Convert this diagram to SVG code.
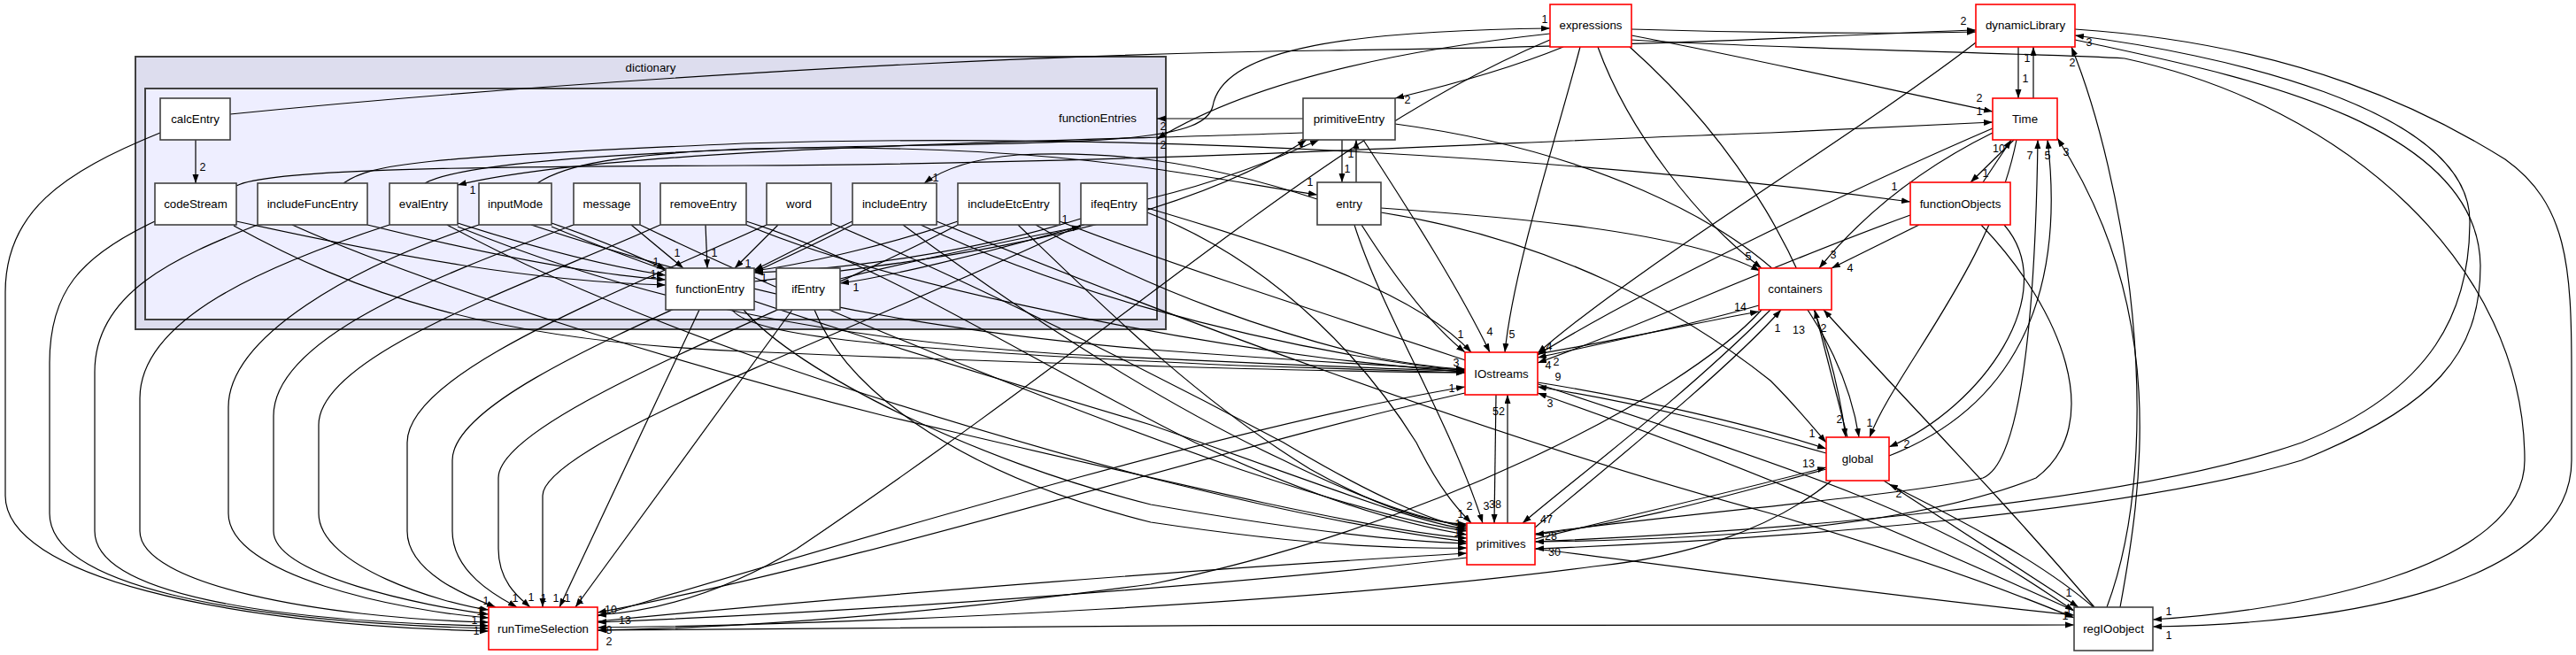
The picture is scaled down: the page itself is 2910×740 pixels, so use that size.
<svg xmlns="http://www.w3.org/2000/svg" width="2910" height="740" viewBox="0 0 2910 740">
<defs>
<marker id="ah" markerUnits="userSpaceOnUse" markerWidth="11" markerHeight="8" refX="10" refY="3.5" orient="auto"><path d="M0,0 L10,3.5 L0,7 z" fill="#000"/></marker>
<style>
text{font-family:"Liberation Sans",Arial,sans-serif;font-size:13.3px;fill:#000}
.n{fill:#fff;stroke:#404040;stroke-width:1.6}
.r{fill:#fff;stroke:#ff0000;stroke-width:1.6}
.lbl{text-anchor:middle}
#edges path{fill:none;stroke:#000;stroke-width:1.2;marker-end:url(#ah)}
#edgelabels text{font-size:12.5px;text-anchor:middle}
</style>
</defs>
<rect width="2910" height="740" fill="#fff"/>
<g id="cluster_dictionary">
<rect x="153" y="64" width="1164" height="308" fill="#ddddee" stroke="#404040" stroke-width="2"/>
<text x="735" y="81" class="lbl">dictionary</text>
</g>
<g id="cluster_functionEntries">
<rect x="164" y="100" width="1143" height="261" fill="#eeeeff" stroke="#404040" stroke-width="2"/>
<text x="1240" y="138" class="lbl">functionEntries</text>
</g>
<g id="edges">
<path d="M221,158 L221,207"/>
<path d="M260,129 C600,95 1100,62 1500,57 C1900,52 2100,38 2232,34"/>
<path d="M181,150 C70,195 6,240 6,330 L6,560 C6,650 250,706 552,713"/>
<path d="M175,250 C90,290 56,330 56,410 L56,580 C56,660 260,702 552,710"/>
<path d="M267,250 C450,290 600,318 752,322"/>
<path d="M264,255 C400,330 550,385 840,397 C1200,412 1500,420 1655,421"/>
<path d="M267,210 C300,192 500,188 840,187 C1300,185 1700,160 2000,150 C2100,146 2180,142 2251,138"/>
<path d="M291,254 C200,290 107,330 107,420 L107,600 C107,670 300,702 552,707"/>
<path d="M415,254 C560,290 670,310 752,316"/>
<path d="M388,207 C420,185 470,178 840,162 C1300,148 1800,180 2158,228"/>
<path d="M330,254 C500,330 800,420 1000,470 C1300,540 1550,600 1657,608"/>
<path d="M440,254 C300,300 158,360 158,450 L158,600 C158,660 360,698 552,703"/>
<path d="M517,252 C620,285 700,303 752,311"/>
<path d="M517,256 C700,330 900,380 1200,400 C1450,412 1600,418 1655,419"/>
<path d="M505,254 C700,360 1000,460 1300,540 C1500,590 1600,605 1657,612"/>
<path d="M480,207 C520,185 700,170 1000,165 C1250,160 1360,160 1370,120 C1380,60 1500,35 1751,32"/>
<path d="M1472,150 C1200,160 700,165 517,209"/>
<path d="M541,254 C400,300 258,380 258,460 L258,580 C258,650 450,690 552,698"/>
<path d="M623,252 C690,275 725,292 752,304"/>
<path d="M607,207 C640,185 700,175 840,168 C1200,160 1350,200 1488,220"/>
<path d="M623,256 C800,330 1100,420 1300,480 C1500,550 1600,590 1657,598"/>
<path d="M600,254 C800,320 1000,370 1300,395 C1500,410 1600,415 1655,418"/>
<path d="M648,254 C500,310 309,380 309,470 L309,600 C309,650 480,685 552,694"/>
<path d="M713,254 L772,303"/>
<path d="M723,254 C900,340 1200,460 1400,530 C1550,580 1620,595 1657,600"/>
<path d="M746,254 C600,320 360,400 360,480 L360,580 C360,640 500,682 552,689"/>
<path d="M797,254 L799,303"/>
<path d="M843,250 C1000,300 1150,400 1350,500 C1500,570 1600,595 1657,604"/>
<path d="M843,254 C1000,320 1300,380 1500,405 C1580,414 1620,418 1655,420"/>
<path d="M866,254 C700,330 460,420 460,500 L460,600 C460,650 540,678 560,686"/>
<path d="M879,254 L830,303"/>
<path d="M939,252 C1100,320 1300,420 1450,500 C1550,560 1620,590 1657,596"/>
<path d="M963,254 C800,340 511,440 511,520 L511,600 C511,650 570,678 584,686"/>
<path d="M963,250 C920,270 880,292 852,305"/>
<path d="M1020,254 C1150,350 1300,450 1450,520 C1550,570 1620,590 1657,594"/>
<path d="M1040,254 C1200,330 1400,380 1550,405 C1600,413 1630,417 1655,418"/>
<path d="M1058,250 C1300,350 1700,500 2000,580 C2200,640 2300,680 2343,698"/>
<path d="M1488,225 C1350,180 1250,170 1150,175 C1090,180 1060,195 1044,207"/>
<path d="M1082,254 C900,350 563,470 563,540 L563,620 C563,660 590,678 599,686"/>
<path d="M1082,250 C1000,278 900,300 852,306"/>
<path d="M1150,254 C1250,350 1350,450 1480,530 C1560,575 1620,592 1657,592"/>
<path d="M1170,254 C1300,330 1450,380 1560,405 C1600,412 1630,416 1655,417"/>
<path d="M1197,250 C1400,330 1900,480 2100,560 C2250,620 2310,670 2343,690"/>
<path d="M1221,254 C1000,360 613,500 613,560 L613,686"/>
<path d="M1221,247 C1100,285 950,305 852,308"/>
<path d="M1225,254 C1100,290 1000,313 949,320"/>
<path d="M1296,240 C1450,300 1550,420 1600,500 C1630,560 1650,578 1662,591"/>
<path d="M1296,235 C1450,280 1600,330 1662,398"/>
<path d="M1296,225 C1380,205 1440,180 1490,158"/>
<path d="M790,350 L632,686"/>
<path d="M827,350 C850,380 1000,395 1400,413 C1550,418 1620,420 1655,421"/>
<path d="M840,350 C900,420 1100,520 1300,570 C1500,605 1600,612 1657,614"/>
<path d="M852,318 C1000,300 1300,270 1476,158"/>
<path d="M895,350 L650,686"/>
<path d="M949,315 C1050,290 1150,270 1221,256"/>
<path d="M920,350 C960,450 1100,540 1300,590 C1500,620 1600,620 1657,619"/>
<path d="M1766,53 C1700,80 1630,98 1576,111"/>
<path d="M1843,33 C2000,38 2150,38 2232,36"/>
<path d="M1843,40 C2000,70 2150,105 2251,126"/>
<path d="M1785,53 C1760,150 1710,300 1700,398"/>
<path d="M1805,53 C1840,150 1920,250 1990,303"/>
<path d="M1841,53 C1950,150 2060,300 2085,494"/>
<path d="M1751,45 C1500,150 1300,350 900,620 C800,680 720,692 675,695"/>
<path d="M1843,45 C2000,55 2300,60 2400,66 C2650,120 2852,300 2852,520 C2852,640 2600,690 2432,700"/>
<path d="M1751,38 C1550,60 1400,100 1307,157"/>
<path d="M1472,134 L1307,134"/>
<path d="M1516,158 L1516,206"/>
<path d="M1532,206 L1532,158"/>
<path d="M1540,158 C1600,250 1650,330 1683,398"/>
<path d="M1576,140 C1800,170 1950,250 2020,320 C2060,370 2090,430 2100,494"/>
<path d="M1538,254 C1580,320 1620,370 1655,398"/>
<path d="M1530,254 C1560,350 1640,480 1675,591"/>
<path d="M1560,235 C1700,245 1900,260 1988,306"/>
<path d="M1560,240 C1750,270 1900,350 2000,430 C2030,460 2050,485 2063,500"/>
<path d="M2280,53 L2280,111"/>
<path d="M2297,111 L2297,53"/>
<path d="M2275,158 L2226,206"/>
<path d="M2240,206 L2272,158"/>
<path d="M2168,254 L2069,303"/>
<path d="M2158,243 C2000,300 1850,370 1737,410"/>
<path d="M2251,150 C2150,200 2090,260 2055,303"/>
<path d="M2251,145 C2100,210 1850,330 1737,401"/>
<path d="M2232,48 C2100,150 1850,300 1737,399"/>
<path d="M2278,158 C2250,300 2140,420 2112,494"/>
<path d="M1734,603 C1900,580 2150,560 2240,540 C2290,520 2300,300 2302,158"/>
<path d="M2134,515 C2300,450 2330,300 2313,158"/>
<path d="M2395,686 C2420,550 2450,350 2324,156"/>
<path d="M2380,686 C2450,500 2400,200 2340,53"/>
<path d="M1734,612 C2000,600 2400,570 2600,500 C2750,440 2790,350 2790,250 C2790,120 2500,60 2344,40"/>
<path d="M2344,45 C2500,80 2800,130 2802,300 C2802,400 2750,460 2600,520 C2400,580 2000,610 1734,620"/>
<path d="M2344,33 C2600,50 2750,130 2830,180 C2900,230 2905,300 2905,420 L2905,520 C2905,660 2650,705 2432,708"/>
<path d="M1690,446 L1688,591"/>
<path d="M1703,591 L1703,446"/>
<path d="M1737,400 C1850,380 1940,360 1987,352"/>
<path d="M1987,345 C1900,370 1800,390 1737,404"/>
<path d="M2000,350 C1900,450 1780,540 1720,591"/>
<path d="M1734,596 C1800,540 1950,420 2012,350"/>
<path d="M2087,494 L2050,350"/>
<path d="M2366,686 C2250,550 2150,450 2060,350"/>
<path d="M1737,432 C1850,450 1980,480 2063,507"/>
<path d="M2063,512 C1950,480 1850,455 1737,437"/>
<path d="M1734,609 C1850,580 1980,550 2063,528"/>
<path d="M2063,530 C1950,560 1850,590 1734,604"/>
<path d="M2128,543 L2348,686"/>
<path d="M2365,686 C2300,630 2200,580 2134,547"/>
<path d="M2343,690 C2100,580 1900,500 1737,444"/>
<path d="M675,696 C1000,600 1400,480 1655,437"/>
<path d="M1655,444 C1400,500 1000,630 675,692"/>
<path d="M675,702 C1000,670 1400,640 1657,625"/>
<path d="M1657,630 C1400,660 1000,690 675,703"/>
<path d="M2069,543 C2000,600 1900,630 1800,640 C1500,680 1000,705 675,709"/>
<path d="M1990,350 C1900,450 1600,600 1300,660 C1000,700 800,710 675,712"/>
<path d="M675,712 C1200,705 1900,705 2343,706"/>
<path d="M2238,254 C2330,350 2380,480 2300,540 C2150,600 1900,610 1734,612"/>
<path d="M2264,254 C2330,330 2240,460 2134,505"/>
<path d="M1734,620 C1900,640 2100,670 2343,695"/>
</g>
<g id="edgelabels">
<text x="229" y="193">2</text>
<text x="2218" y="28">2</text>
<text x="538" y="717">1</text>
<text x="536" y="705">1</text>
<text x="542" y="695">1</text>
<text x="549" y="683">1</text>
<text x="582" y="680">1</text>
<text x="600" y="679">1</text>
<text x="614" y="680">1</text>
<text x="628" y="680">1</text>
<text x="641" y="680">1</text>
<text x="656" y="682">1</text>
<text x="741" y="300">1</text>
<text x="738" y="314">1</text>
<text x="765" y="290">1</text>
<text x="807" y="290">1</text>
<text x="845" y="302">1</text>
<text x="863" y="318">1</text>
<text x="1645" y="414">3</text>
<text x="2236" y="130">1</text>
<text x="2140" y="215">1</text>
<text x="1745" y="26">1</text>
<text x="534" y="219">1</text>
<text x="1480" y="210">1</text>
<text x="1057" y="205">1</text>
<text x="967" y="329">1</text>
<text x="1203" y="252">1</text>
<text x="1471" y="166">1</text>
<text x="1650" y="585">1</text>
<text x="1647" y="596">1</text>
<text x="1646" y="606">1</text>
<text x="1590" y="117">2</text>
<text x="2236" y="115">2</text>
<text x="1708" y="382">5</text>
<text x="1975" y="294">5</text>
<text x="2078" y="478">2</text>
<text x="2450" y="695">1</text>
<text x="2450" y="722">1</text>
<text x="1314" y="147">2</text>
<text x="1314" y="168">2</text>
<text x="1522" y="195">1</text>
<text x="1526" y="178">1</text>
<text x="1683" y="379">4</text>
<text x="1650" y="382">1</text>
<text x="1660" y="576">2</text>
<text x="1679" y="576">3</text>
<text x="2047" y="494">1</text>
<text x="2288" y="93">1</text>
<text x="2290" y="70">1</text>
<text x="2243" y="200">1</text>
<text x="2258" y="172">10</text>
<text x="2090" y="307">4</text>
<text x="1749" y="417">4</text>
<text x="2071" y="292">3</text>
<text x="1750" y="396">4</text>
<text x="2112" y="482">1</text>
<text x="2293" y="180">7</text>
<text x="2313" y="180">5</text>
<text x="2334" y="176">3</text>
<text x="2341" y="75">2</text>
<text x="2360" y="52">3</text>
<text x="1756" y="628">30</text>
<text x="1689" y="574">38</text>
<text x="1693" y="469">52</text>
<text x="1966" y="351">14</text>
<text x="1758" y="413">2</text>
<text x="1747" y="591">47</text>
<text x="2008" y="375">1</text>
<text x="2032" y="377">13</text>
<text x="2060" y="375">2</text>
<text x="2043" y="528">13</text>
<text x="1752" y="610">28</text>
<text x="2337" y="674">1</text>
<text x="2145" y="562">2</text>
<text x="1760" y="430">9</text>
<text x="1751" y="460">3</text>
<text x="1640" y="443">1</text>
<text x="690" y="693">10</text>
<text x="706" y="705">13</text>
<text x="688" y="716">8</text>
<text x="688" y="729">2</text>
<text x="2333" y="700">1</text>
<text x="2154" y="506">2</text>
<text x="2337" y="694">1</text>
</g>
<g id="node_calcEntry"><rect class="n" x="181" y="111" width="79" height="47"/><text x="220.5" y="139" class="lbl">calcEntry</text></g>
<g id="node_codeStream"><rect class="n" x="175" y="207" width="92" height="47"/><text x="221" y="235" class="lbl">codeStream</text></g>
<g id="node_includeFuncEntry"><rect class="n" x="291" y="207" width="124" height="47"/><text x="353" y="235" class="lbl">includeFuncEntry</text></g>
<g id="node_evalEntry"><rect class="n" x="440" y="207" width="77" height="47"/><text x="478.5" y="235" class="lbl">evalEntry</text></g>
<g id="node_inputMode"><rect class="n" x="541" y="207" width="82" height="47"/><text x="582" y="235" class="lbl">inputMode</text></g>
<g id="node_message"><rect class="n" x="648" y="207" width="75" height="47"/><text x="685.5" y="235" class="lbl">message</text></g>
<g id="node_removeEntry"><rect class="n" x="746" y="207" width="97" height="47"/><text x="794.5" y="235" class="lbl">removeEntry</text></g>
<g id="node_word"><rect class="n" x="866" y="207" width="73" height="47"/><text x="902.5" y="235" class="lbl">word</text></g>
<g id="node_includeEntry"><rect class="n" x="963" y="207" width="95" height="47"/><text x="1010.5" y="235" class="lbl">includeEntry</text></g>
<g id="node_includeEtcEntry"><rect class="n" x="1082" y="207" width="115" height="47"/><text x="1139.5" y="235" class="lbl">includeEtcEntry</text></g>
<g id="node_ifeqEntry"><rect class="n" x="1221" y="207" width="75" height="47"/><text x="1258.5" y="235" class="lbl">ifeqEntry</text></g>
<g id="node_functionEntry"><rect class="n" x="752" y="303" width="100" height="47"/><text x="802" y="331" class="lbl">functionEntry</text></g>
<g id="node_ifEntry"><rect class="n" x="877" y="303" width="72" height="47"/><text x="913" y="331" class="lbl">ifEntry</text></g>
<g id="node_expressions"><rect class="r" x="1751" y="5" width="92" height="48"/><text x="1797" y="33" class="lbl">expressions</text></g>
<g id="node_primitiveEntry"><rect class="n" x="1472" y="111" width="104" height="47"/><text x="1524" y="139" class="lbl">primitiveEntry</text></g>
<g id="node_entry"><rect class="n" x="1488" y="206" width="72" height="48"/><text x="1524" y="235" class="lbl">entry</text></g>
<g id="node_dynamicLibrary"><rect class="r" x="2232" y="5" width="112" height="48"/><text x="2288" y="33" class="lbl">dynamicLibrary</text></g>
<g id="node_Time"><rect class="r" x="2251" y="111" width="73" height="47"/><text x="2287.5" y="139" class="lbl">Time</text></g>
<g id="node_functionObjects"><rect class="r" x="2158" y="206" width="113" height="48"/><text x="2214.5" y="235" class="lbl">functionObjects</text></g>
<g id="node_containers"><rect class="r" x="1987" y="303" width="82" height="47"/><text x="2028" y="331" class="lbl">containers</text></g>
<g id="node_IOstreams"><rect class="r" x="1655" y="398" width="82" height="48"/><text x="1696" y="427" class="lbl">IOstreams</text></g>
<g id="node_global"><rect class="r" x="2063" y="494" width="71" height="49"/><text x="2098.5" y="523" class="lbl">global</text></g>
<g id="node_primitives"><rect class="r" x="1657" y="591" width="77" height="47"/><text x="1695.5" y="619" class="lbl">primitives</text></g>
<g id="node_runTimeSelection"><rect class="r" x="552" y="686" width="123" height="48"/><text x="613.5" y="715" class="lbl">runTimeSelection</text></g>
<g id="node_regIOobject"><rect class="n" x="2343" y="686" width="89" height="49"/><text x="2387.5" y="715" class="lbl">regIOobject</text></g>
</svg>
